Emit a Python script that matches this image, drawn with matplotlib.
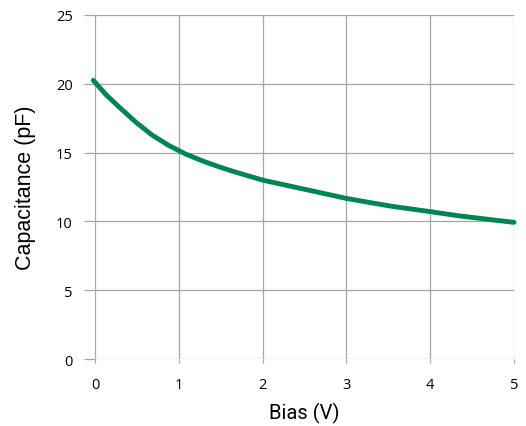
import matplotlib
matplotlib.use("Agg")
import matplotlib.pyplot as plt

# valeurs
bias = [-0.02, 0.13, 0.29, 0.49, 0.68, 0.88, 1.08, 1.28, 1.48, 1.64,
        2.0, 2.49, 3.0, 3.29, 3.56, 4.0, 4.36, 4.76, 5.0]
capa = [20.25, 19.22, 18.3, 17.2, 16.28, 15.52, 14.9, 14.4, 13.97, 13.65,
        13.0, 12.35, 11.67, 11.36, 11.08, 10.71, 10.39, 10.1, 9.93]

xticks = [0, 1, 2, 3, 4, 5]
yticks = [0, 5, 10, 15, 20, 25]

fig = plt.figure(figsize=(5.26, 4.27), dpi=100)
ax = fig.add_axes([95 / 526, 1 - 360 / 427, 419 / 526, 344 / 427])

ax.plot(bias, capa, color="#00874f", lw=3.5, solid_capstyle="round",
        solid_joinstyle="round", clip_on=False, zorder=3)

ax.set_xlim(0, 5)
ax.set_ylim(0, 25)
ax.set_xticks(xticks)
ax.set_yticks(yticks)
ax.set_xticklabels([str(t) for t in xticks], family="Open Sans", fontsize=10.5)
ax.set_yticklabels([str(t) for t in yticks], family="Open Sans", fontsize=10.5)
ax.grid(True, color="#a6a6a6", lw=0.9)
ax.set_axisbelow(True)
for s in ax.spines.values():
    s.set_visible(False)
ax.tick_params(axis="y", length=8, width=0.9, color="#a6a6a6", pad=8)
ax.tick_params(axis="x", length=3, width=0.9, color="#a6a6a6", pad=10)

ax.set_xlabel("Bias (V)", family="Roboto", fontsize=14.5, labelpad=7)
ax.set_ylabel("Capacitance (pF)", family="Liberation Sans", fontsize=15.5, labelpad=14)

fig.savefig("out.png", dpi=100)
